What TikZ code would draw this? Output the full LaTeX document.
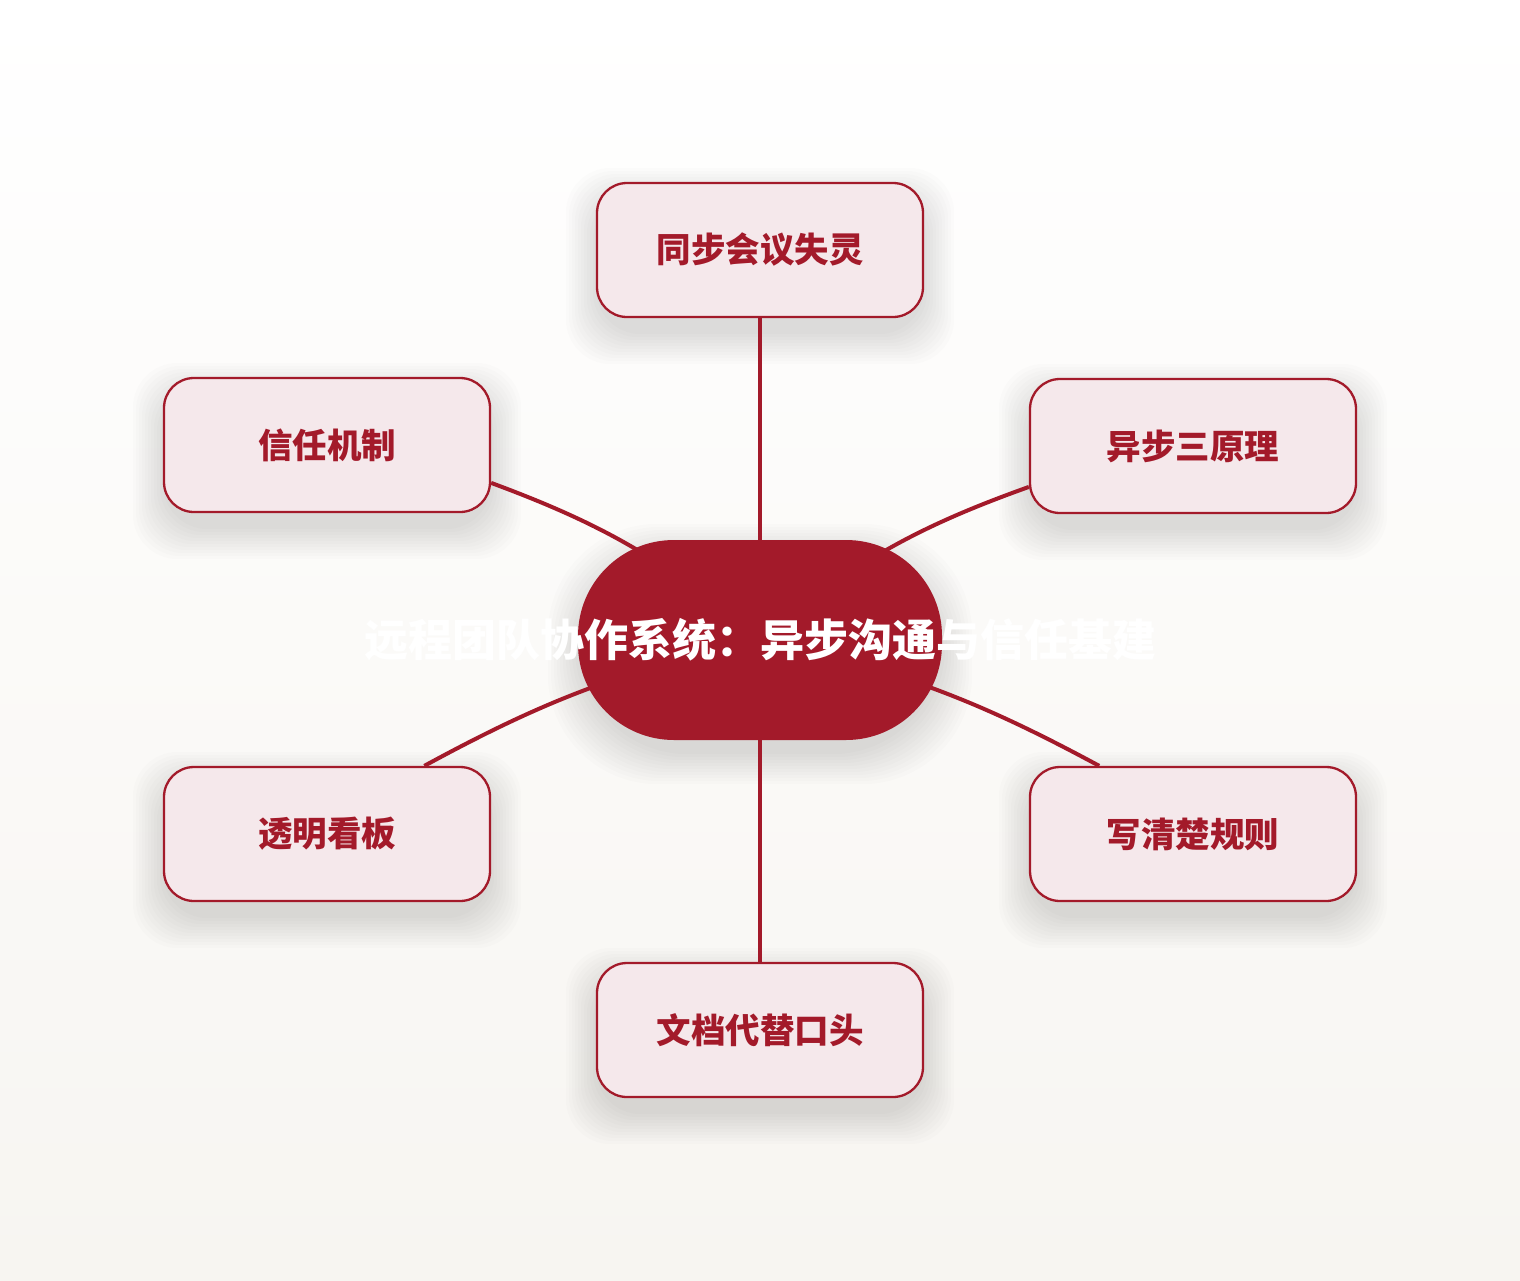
\documentclass[tikz,border=0pt]{standalone}
\usepackage{fontspec}
\newfontfamily\cjk{Noto Sans CJK SC}
\usetikzlibrary{backgrounds,calc}
\definecolor{wine}{HTML}{A31A2A}
\definecolor{blush}{HTML}{F5E8EB}
\definecolor{paper}{HTML}{F7F5F1}
\tikzset{
	topic/.style={draw=wine, line width=2.3pt, fill=blush, rounded corners=30pt,
		minimum width=326pt, minimum height=134pt, text=wine,
		font=\cjk\bfseries\fontsize{34.5}{40}\selectfont},
	hub/.style={fill=wine, rounded corners=96pt, minimum width=364pt, minimum height=200pt,
		text=white, font=\cjk\bfseries\fontsize{44}{50}\selectfont},
	link/.style={draw=wine, line width=4pt},
	haze/.style={fill=black, opacity=0.012, rounded corners=#1}
}
\begin{document}
\begin{tikzpicture}[x=1pt,y=1pt]
	\useasboundingbox (0,0) rectangle (1520,-1280);
	\node[hub] (hub) at (760,-640) {\makebox[0pt]{远程团队协作系统：异步沟通与信任基建}};
	\node[topic] (sync)  at (760,-250)  {同步会议失灵};
	\node[topic] (trust) at (327,-445)  {信任机制};
	\node[topic] (async) at (1193,-446) {异步三原理};
	\node[topic] (board) at (327,-834)  {透明看板};
	\node[topic] (rules) at (1193,-834) {写清楚规则};
	\node[topic] (docs)  at (760,-1030) {文档代替口头};
	\begin{scope}[on background layer]
		\shade[top color=white, bottom color=paper] (0,0) rectangle (1520,-1280); % page backdrop
		% soft shadows, stacked thin layers
		\foreach \n in {sync,trust,async,board,rules,docs}
			\foreach \k in {0,3,...,30}
				\fill[haze=45pt] ($(\n.south west)+(-\k,-\k-16)$) rectangle ($(\n.north east)+(\k,\k-16)$);
		\foreach \k in {0,3,...,30}
			\fill[haze=110pt] ($(hub.south west)+(-\k,-\k-14)$) rectangle ($(hub.north east)+(\k,\k-14)$);
		% links run under the hub
		\draw[link] (sync.south) -- (hub.center);
		\draw[link] (docs.north) -- (hub.center);
		\draw[link] (trust.-13.5) to[bend left=10] (hub.center);
		\draw[link] (async.194) to[bend right=10] (hub.center);
		\draw[link] (board.35.8) to[bend left=8] (hub.center);
		\draw[link] (rules.144.2) to[bend right=8] (hub.center);
	\end{scope}
\end{tikzpicture}
\end{document}
